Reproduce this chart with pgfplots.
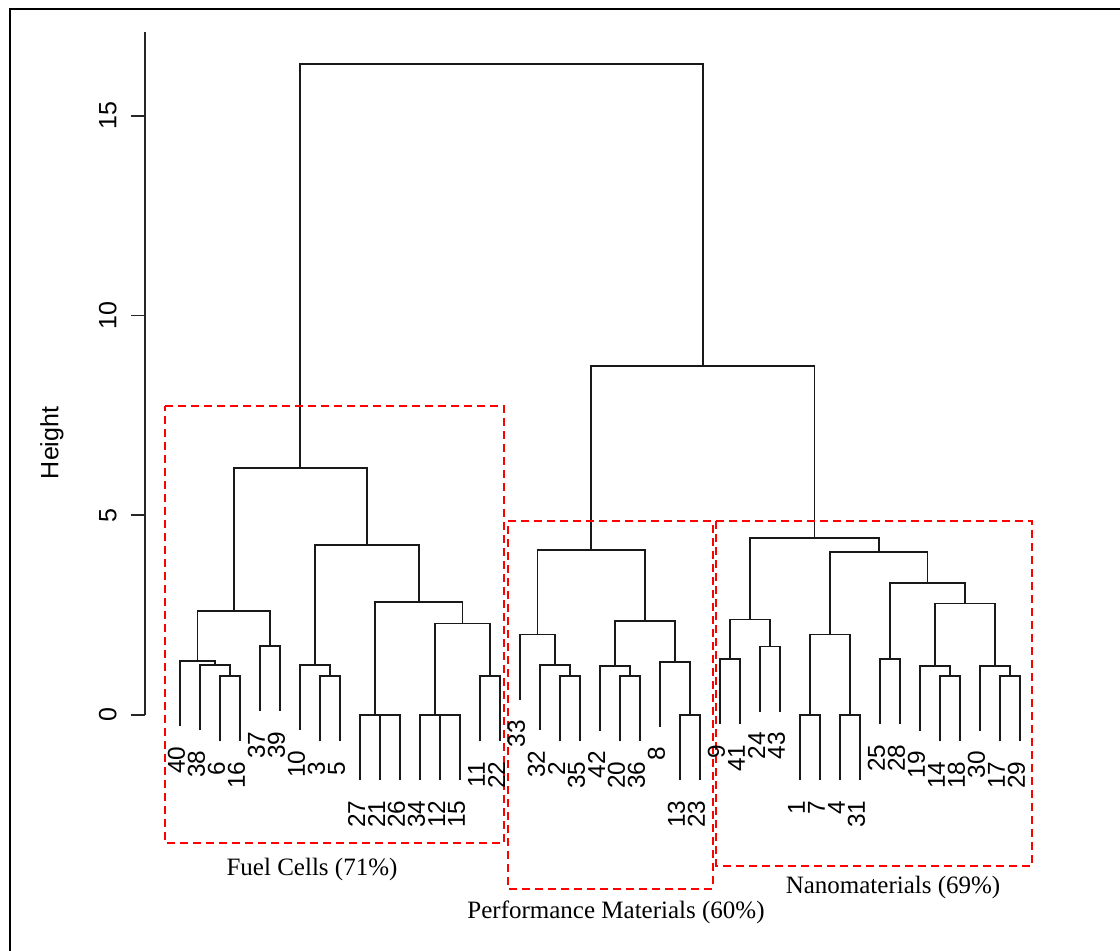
\documentclass[border=0pt]{standalone}
\usepackage{fontspec}
\setmainfont{Liberation Sans}
\newfontfamily\seriffont{Liberation Serif}
\usepackage{pgfplots}
\pgfplotsset{compat=1.18}
\begin{document}
\begin{tikzpicture}
\begin{axis}[
  scale only axis, width=447.5pt, height=341.55pt,
  xmin=-0.75, xmax=44, ymin=0, ymax=17.1,
  axis x line=none, axis y line*=left,
  y axis line style={-, line width=0.8pt, black!85},
  ytick={0,5,10,15},
  tick align=outside, major tick length=7pt,
  ytick style={line width=0.8pt, black!85},
  /pgf/number format/assume math mode=true,
  yticklabel style={xshift=-7pt, rotate=90, anchor=south, inner sep=0pt, font=\fontsize{12.5}{15}\selectfont},
  clip=false,
  dend/.style={black!90, line width=0.85pt, mark=none},
  box/.style={red, line width=1pt, dash pattern=on 4pt off 2.5pt, mark=none},
]
% frame and bounding coordinates
\coordinate (BL) at (axis cs:-8,-5.907);
\coordinate (TR) at (axis cs:48,17.897);
\draw[line width=1pt, black] (axis cs:-7.5,-5.907) -- (axis cs:-7.5,17.672) -- (axis cs:48,17.672);

% dendrogram
\addplot[dend] coordinates {(3,-0.66)(3,0.97)(4,0.97)(4,-0.66)};
\addplot[dend] coordinates {(2,-0.38)(2,1.25)(3.5,1.25)(3.5,0.97)};
\addplot[dend] coordinates {(1,-0.28)(1,1.35)(2.75,1.35)(2.75,1.25)};
\addplot[dend] coordinates {(5,0.09)(5,1.72)(6,1.72)(6,0.09)};
\addplot[dend] coordinates {(1.875,1.35)(1.875,2.60)(5.5,2.60)(5.5,1.72)};
\addplot[dend] coordinates {(8,-0.66)(8,0.97)(9,0.97)(9,-0.66)};
\addplot[dend] coordinates {(7,-0.38)(7,1.25)(8.5,1.25)(8.5,0.97)};
\addplot[dend] coordinates {(11,-1.63)(11,0)(12,0)(12,-1.63)};
\addplot[dend] coordinates {(10,-1.63)(10,0)(11.5,0)(11.5,0)};
\addplot[dend] coordinates {(14,-1.63)(14,0)(15,0)(15,-1.63)};
\addplot[dend] coordinates {(13,-1.63)(13,0)(14.5,0)(14.5,0)};
\addplot[dend] coordinates {(16,-0.66)(16,0.97)(17,0.97)(17,-0.66)};
\addplot[dend] coordinates {(13.75,0)(13.75,2.29)(16.5,2.29)(16.5,0.97)};
\addplot[dend] coordinates {(10.75,0)(10.75,2.82)(15.125,2.82)(15.125,2.29)};
\addplot[dend] coordinates {(7.75,1.25)(7.75,4.25)(12.9375,4.25)(12.9375,2.82)};
\addplot[dend] coordinates {(3.6875,2.60)(3.6875,6.18)(10.34375,6.18)(10.34375,4.25)};
\addplot[dend] coordinates {(20,-0.66)(20,0.97)(21,0.97)(21,-0.66)};
\addplot[dend] coordinates {(19,-0.38)(19,1.25)(20.5,1.25)(20.5,0.97)};
\addplot[dend] coordinates {(18,0.38)(18,2.01)(19.75,2.01)(19.75,1.25)};
\addplot[dend] coordinates {(23,-0.66)(23,0.97)(24,0.97)(24,-0.66)};
\addplot[dend] coordinates {(22,-0.40)(22,1.23)(23.5,1.23)(23.5,0.97)};
\addplot[dend] coordinates {(26,-1.63)(26,0)(27,0)(27,-1.63)};
\addplot[dend] coordinates {(25,-0.30)(25,1.33)(26.5,1.33)(26.5,0)};
\addplot[dend] coordinates {(22.75,1.23)(22.75,2.35)(25.75,2.35)(25.75,1.33)};
\addplot[dend] coordinates {(18.875,2.01)(18.875,4.13)(24.25,4.13)(24.25,2.35)};
\addplot[dend] coordinates {(28,-0.23)(28,1.40)(29,1.40)(29,-0.23)};
\addplot[dend] coordinates {(30,0.08)(30,1.71)(31,1.71)(31,0.08)};
\addplot[dend] coordinates {(28.5,1.40)(28.5,2.39)(30.5,2.39)(30.5,1.71)};
\addplot[dend] coordinates {(32,-1.63)(32,0)(33,0)(33,-1.63)};
\addplot[dend] coordinates {(34,-1.63)(34,0)(35,0)(35,-1.63)};
\addplot[dend] coordinates {(32.5,0)(32.5,2.01)(34.5,2.01)(34.5,0)};
\addplot[dend] coordinates {(36,-0.23)(36,1.40)(37,1.40)(37,-0.23)};
\addplot[dend] coordinates {(39,-0.66)(39,0.97)(40,0.97)(40,-0.66)};
\addplot[dend] coordinates {(38,-0.40)(38,1.23)(39.5,1.23)(39.5,0.97)};
\addplot[dend] coordinates {(42,-0.66)(42,0.97)(43,0.97)(43,-0.66)};
\addplot[dend] coordinates {(41,-0.40)(41,1.23)(42.5,1.23)(42.5,0.97)};
\addplot[dend] coordinates {(38.75,1.23)(38.75,2.79)(41.75,2.79)(41.75,1.23)};
\addplot[dend] coordinates {(36.5,1.40)(36.5,3.30)(40.25,3.30)(40.25,2.79)};
\addplot[dend] coordinates {(33.5,2.01)(33.5,4.08)(38.375,4.08)(38.375,3.30)};
\addplot[dend] coordinates {(29.5,2.39)(29.5,4.43)(35.9375,4.43)(35.9375,4.08)};
\addplot[dend] coordinates {(21.5625,4.13)(21.5625,8.74)(32.71875,8.74)(32.71875,4.43)};
\addplot[dend] coordinates {(7.015625,6.18)(7.015625,16.3)(27.140625,16.3)(27.140625,8.74)};

% leaf labels
\addplot[draw=none, mark=none, nodes near coords, point meta=explicit symbolic,
  every node near coord/.append style={xshift=-1.75pt, rotate=90, anchor=east, inner sep=0pt,
    font=\fontsize{12.2}{14}\selectfont, black}]
  table[meta=lab] {
x y lab
1 -0.78 40
2 -0.88 38
3 -1.16 6
4 -1.16 16
5 -0.41 37
6 -0.41 39
7 -0.88 10
8 -1.16 3
9 -1.16 5
10 -2.13 27
11 -2.13 21
12 -2.13 26
13 -2.13 34
14 -2.13 12
15 -2.13 15
16 -1.16 11
17 -1.16 22
18 -0.12 33
19 -0.88 32
20 -1.16 2
21 -1.16 35
22 -0.90 42
23 -1.16 20
24 -1.16 36
25 -0.80 8
26 -2.13 13
27 -2.13 23
28 -0.73 9
29 -0.73 41
30 -0.42 24
31 -0.42 43
32 -2.13 1
33 -2.13 7
34 -2.13 4
35 -2.13 31
36 -0.73 25
37 -0.73 28
38 -0.90 19
39 -1.16 14
40 -1.16 18
41 -0.90 30
42 -1.16 17
43 -1.16 29
};

% cluster boxes
\addplot[box] coordinates {(0.25,7.735)(17.2,7.735)(17.2,-3.204)(0.25,-3.204)(0.25,7.735)};
\addplot[box] coordinates {(17.4,4.844)(27.625,4.844)(27.625,-4.355)(17.4,-4.355)(17.4,4.844)};
\addplot[box] coordinates {(27.8,4.844)(43.6,4.844)(43.6,-3.78)(27.8,-3.78)(27.8,4.844)};

\node[font=\seriffont\fontsize{12.5}{15}\selectfont] at (axis cs:7.6,-3.86) {Fuel Cells (71\%)};
\node[font=\seriffont\fontsize{12.5}{15}\selectfont] at (axis cs:22.8,-4.93) {Performance Materials (60\%)};
\node[font=\seriffont\fontsize{12.5}{15}\selectfont] at (axis cs:36.65,-4.31) {Nanomaterials (69\%)};

\node[rotate=90, font=\fontsize{12.5}{15}\selectfont] at (axis cs:-5.4,6.81) {Height};
\end{axis}
\pgfresetboundingbox
\path[use as bounding box] (BL) rectangle (TR);
\end{tikzpicture}
\end{document}
